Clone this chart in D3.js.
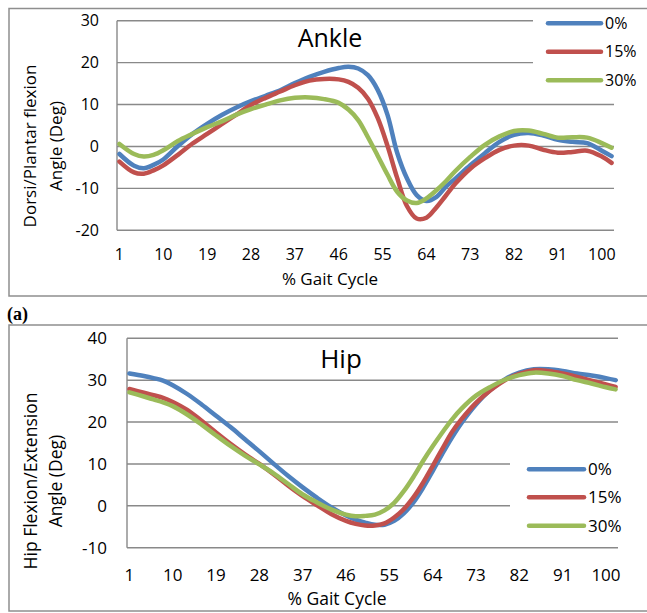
<!DOCTYPE html>
<html><head><meta charset="utf-8">
<script src="https://cdn.jsdelivr.net/npm/d3@7"></script>
<style>body{margin:0;background:#fff;} svg{display:block;font-family:"Open Sans",sans-serif;}</style>
</head><body><svg id="c" width="647" height="613"></svg>
<script>
// ---------- data ----------
const gait = [1,4,6,8,10,13,16,19,22,25,28,31,34,37,40,43,46,48,50,52,54,56,58,60,62,64,66,68,70,73,76,79,82,85,88,91,94,97,100,102];
const seriesNames = ["0%","15%","30%"];
const seriesColors = ["#4F81BD","#C0504D","#9BBB59"];
const xTickLabels = [1,10,19,28,37,46,55,64,73,82,91,100];
const ankleYTicks = [-20,-10,0,10,20,30];
const hipYTicks = [-10,0,10,20,30,40];

const ankle0  = [-1.8,-4.6,-5.2,-4.4,-3.1,0.1,3.0,5.4,7.5,9.3,10.8,12.1,13.4,15.1,16.6,17.8,18.7,19.0,18.6,17.0,13.5,7.6,-1.5,-7.6,-11.6,-13.0,-12.1,-9.6,-7.6,-4.5,-1.6,1.1,2.8,3.2,2.6,1.6,1.1,0.8,-1.0,-2.3];
const ankle15 = [-3.6,-6.2,-6.5,-5.7,-4.5,-2.0,0.7,3.0,5.3,7.6,9.9,11.6,13.1,14.6,15.7,16.1,16.0,15.4,14.0,11.4,6.8,0.2,-7.5,-14.2,-17.2,-17.0,-14.6,-11.7,-8.8,-5.3,-2.8,-0.8,0.2,0.2,-0.8,-1.5,-1.3,-1.0,-2.4,-3.9];
const ankle30 = [0.6,-1.8,-2.4,-2.0,-0.9,1.3,3.0,4.6,6.0,7.6,8.9,10.0,11.0,11.6,11.7,11.3,10.4,8.8,6.3,2.2,-2.2,-6.7,-10.8,-12.9,-13.5,-12.4,-10.5,-8.3,-5.8,-2.5,0.4,2.4,3.7,3.8,3.0,2.1,2.2,2.1,0.8,-0.3];

const hip0  = [31.6,31.0,30.5,29.9,28.8,26.7,24.2,21.5,18.8,15.9,13.0,10.0,7.1,4.4,1.9,-0.4,-2.3,-3.3,-4.0,-4.5,-4.5,-3.6,-1.8,0.8,4.3,8.3,12.4,16.3,19.8,24.2,27.7,30.2,31.8,32.6,32.6,32.2,31.6,31.1,30.5,30.0];
const hip15 = [27.9,27.0,26.4,25.8,24.8,22.9,20.3,17.5,14.8,12.3,10.0,7.5,4.8,2.3,0.1,-2.0,-3.6,-4.3,-4.7,-4.7,-4.2,-2.8,-0.8,2.0,5.5,9.5,13.6,17.6,20.7,24.6,27.6,30.0,31.5,32.4,32.2,31.6,30.8,29.9,29.0,28.4];
const hip30 = [27.1,26.1,25.4,24.7,23.8,21.8,19.4,16.8,14.3,12.0,9.9,7.7,5.2,2.7,0.8,-0.9,-2.1,-2.5,-2.4,-2.1,-1.1,0.7,3.5,6.9,10.7,14.2,17.5,20.6,23.2,26.3,28.4,30.1,31.2,31.8,31.6,31.0,30.0,29.2,28.3,27.8];

// ---------- drawing ----------
const svg = d3.select("#c");
const GRID = "#898989";

function panel(cfg){
  const g = svg.append("g");
  g.append("rect").attr("x",cfg.box[0]).attr("y",cfg.box[1]).attr("width",cfg.box[2]).attr("height",cfg.box[3])
    .attr("fill","none").attr("stroke","#8e8e8e").attr("stroke-width",1.5);
  const x = d3.scaleLinear().domain([0.5,102.5]).range([cfg.l,cfg.r]);
  const y = d3.scaleLinear().domain(cfg.yDomain).range([cfg.b,cfg.t]);
  g.selectAll(".grid").data(cfg.yTicks).join("line")
    .attr("x1",cfg.l).attr("x2",cfg.r).attr("y1",d=>y(d)).attr("y2",d=>y(d))
    .attr("stroke",GRID).attr("stroke-width",1.4);
  g.append("line").attr("x1",cfg.l).attr("x2",cfg.l).attr("y1",y(cfg.yDomain[1])).attr("y2",y(cfg.yDomain[0]))
    .attr("stroke",GRID).attr("stroke-width",1.4);
  g.append("rect").attr("x",cfg.legMask[0]).attr("y",cfg.legMask[1]).attr("width",cfg.legMask[2]).attr("height",cfg.legMask[3]).attr("fill","#fff");
  g.selectAll(".yt").data(cfg.yTicks).join("text")
    .attr("x",cfg.yLabX).attr("y",d=>y(d)).attr("dy","0.36em").attr("text-anchor","end")
    .attr("font-size",cfg.fs).attr("fill","#000").text(d=>d);
  g.selectAll(".xt").data(xTickLabels).join("text")
    .attr("x",d=>x(d)).attr("y",cfg.xLabY).attr("dy","0.36em").attr("text-anchor","middle")
    .attr("font-size",cfg.fs).attr("fill","#000").text(d=>d);
  g.append("text").attr("x",cfg.xTitle[0]).attr("y",cfg.xTitle[1]).attr("dy","0.36em").attr("text-anchor","middle")
    .attr("font-size",cfg.tfs).text("% Gait Cycle");
  cfg.yTitle.forEach((t,i)=>{
    g.append("text").attr("transform",`translate(${cfg.yTitleX[i]},${cfg.yTitleY}) rotate(-90)`)
      .attr("text-anchor","middle").attr("dominant-baseline","central").attr("font-size",cfg.tfs).text(t);
  });
  g.append("text").attr("x",cfg.title[1]).attr("y",cfg.title[2]).attr("text-anchor","middle")
    .attr("font-size",cfg.titleFs).text(cfg.title[0]);
  const line = d3.line().x(d=>x(d[0])).y(d=>y(d[1])).curve(d3.curveCatmullRom.alpha(0.5));
  cfg.series.forEach((vals,i)=>{
    g.append("path").datum(gait.map((gv,k)=>[gv,vals[k]])).attr("d",line)
      .attr("fill","none").attr("stroke",seriesColors[i]).attr("stroke-width",4.5)
      .attr("stroke-linejoin","round").attr("stroke-linecap","round");
  });
  seriesNames.forEach((n,i)=>{
    const ly = cfg.legY[i];
    g.append("line").attr("x1",cfg.legX[0]).attr("x2",cfg.legX[1]).attr("y1",ly).attr("y2",ly)
      .attr("stroke",seriesColors[i]).attr("stroke-width",4.5).attr("stroke-linecap","round");
    g.append("text").attr("x",cfg.legX[2]).attr("y",ly).attr("dy","0.36em").attr("font-size",cfg.fs).text(n);
  });
}

panel({
  box:[9,8.5,700,287.5], l:117, r:614, t:20.7, b:230.3, yDomain:[-20,30], yTicks:ankleYTicks,
  fs:16, tfs:17, yLabX:99, xLabY:254.5, xTitle:[330,278.5],
  yTitle:["Dorsi/Plantar flexion","Angle (Deg)"], yTitleX:[29,55], yTitleY:146,
  title:["Ankle",330,46.5], titleFs:25,
  legMask:[533,12,120,84], legX:[548,601,605], legY:[23.3,51.7,80.3],
  series:[ankle0,ankle15,ankle30]
});
panel({
  box:[9,325,700,286], l:127, r:618, t:338.3, b:547.7, yDomain:[-10,40], yTicks:hipYTicks,
  fs:17, tfs:17.5, yLabX:107, xLabY:574.5, xTitle:[337,599],
  yTitle:["Hip Flexion/Extension","Angle (Deg)"], yTitleX:[30,55], yTitleY:481,
  title:["Hip",341,368], titleFs:26,
  legMask:[510,440,140,97], legX:[529,584,588], legY:[469.3,497.3,525.7],
  series:[hip0,hip15,hip30]
});
svg.append("text").attr("x",7).attr("y",320).attr("font-family","'Liberation Serif',serif").attr("font-weight","bold")
  .attr("font-size",18).text("(a)");
</script></body></html>
